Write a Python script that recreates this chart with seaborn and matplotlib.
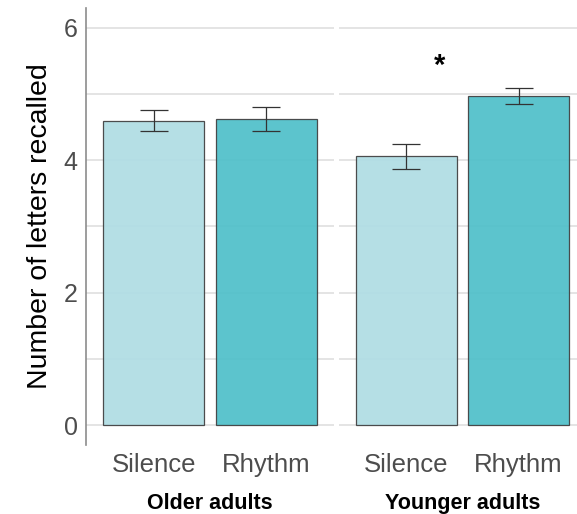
import numpy as np
import pandas as pd
import seaborn as sns
import matplotlib.pyplot as plt
from matplotlib.ticker import MultipleLocator

groups = ["Older adults", "Younger adults"]
conditions = ["Silence", "Rhythm"]
older_means = [4.60, 4.62]
older_se = [0.16, 0.18]
younger_means = [4.06, 4.965]
younger_se = [0.19, 0.12]

df = pd.DataFrame({
    "group": np.repeat(groups, 2),
    "condition": conditions * 2,
    "recalled": older_means + younger_means,
    "se": older_se + younger_se,
})

sns.set_style("white")
plt.rcParams['font.family'] = ['Liberation Sans', 'DejaVu Sans']
palette = {"Silence": "#b0dde4", "Rhythm": "#50c0ca"}

fig = plt.figure(figsize=(5.77, 5.14), dpi=100)
W, H = 577, 514
bottom, top = 1 - 445 / H, 1 - 8 / H
ax1 = fig.add_axes([86 / W, bottom, (334 - 86) / W, top - bottom])
ax2 = fig.add_axes([339 / W, bottom, (586 - 339) / W, top - bottom])

for ax, g in zip([ax1, ax2], groups):
    sub = df[df["group"] == g]
    sns.barplot(data=sub, x="condition", y="recalled", hue="condition",
                palette=palette, order=conditions, width=0.9, saturation=1,
                edgecolor="#404040", linewidth=0.9, alpha=0.93,
                errorbar=None, legend=False, ax=ax, zorder=2)
    ax.errorbar(x=range(len(sub)), y=sub["recalled"], yerr=sub["se"],
                fmt="none", ecolor="#333333", elinewidth=0.9,
                capsize=10, capthick=0.9, zorder=3)
    ax.set_xlim(-0.6, 1.6)
    ax.set_ylim(-0.3, 6.3)
    ax.yaxis.set_major_locator(MultipleLocator(2))
    ax.yaxis.set_minor_locator(MultipleLocator(1))
    ax.grid(axis="y", which="both", color="#dcdcdc", linewidth=1.1, zorder=0)
    ax.set_axisbelow(True)
    for s in ["top", "right", "bottom"]:
        ax.spines[s].set_visible(False)
    ax.tick_params(axis="x", length=0, labelsize=18.5, labelcolor="#4d4d4d", pad=6)
    ax.tick_params(axis="y", which="minor", length=0)
    ax.set_xlabel("")
    ax.set_ylabel("")
    ax.text(0.5, -0.133, g, transform=ax.transAxes, ha="center", va="center",
            fontsize=15.5, fontweight="bold", color="black")

ax1.spines["left"].set_color("#8c8c8c")
ax1.spines["left"].set_linewidth(1.2)
ax1.tick_params(axis="y", which="major", length=4, color="#8c8c8c",
                labelsize=18, labelcolor="#4d4d4d", pad=2)
ax1.set_ylabel("Number of letters recalled", fontsize=20.5, color="black", labelpad=8)

ax2.spines["left"].set_visible(False)
ax2.tick_params(axis="y", which="both", length=0, labelleft=False)
ax2.text(0.3, 5.42, "*", ha="center", va="center", fontsize=21,
         fontweight="bold", color="black")

fig.savefig("out.png", dpi=100)
